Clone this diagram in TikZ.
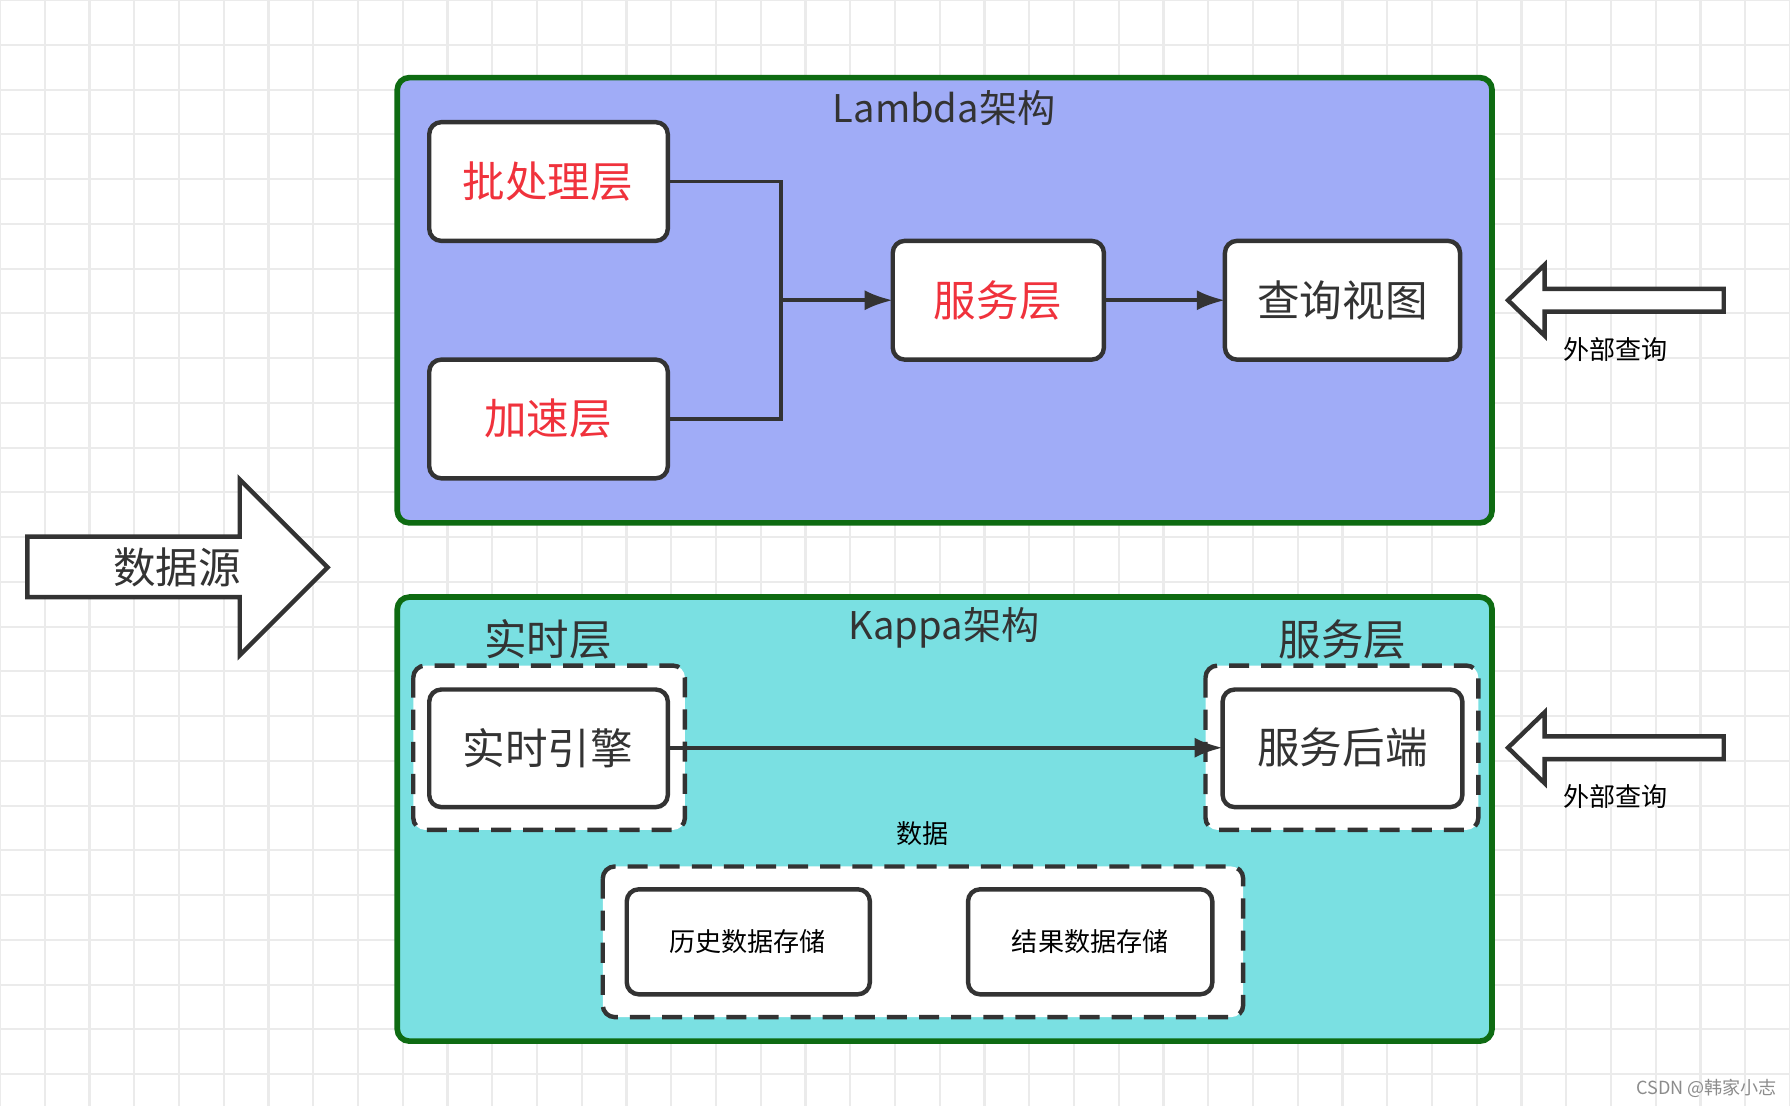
\documentclass[tikz,border=0pt]{standalone}
\usepackage{fontspec}
\setmainfont{Noto Sans CJK SC}
\usetikzlibrary{arrows.meta}
\definecolor{lambdafill}{HTML}{A0ACF7}
\definecolor{kappafill}{HTML}{7AE0E2}
\definecolor{frame}{HTML}{0E6B12}
\definecolor{redtxt}{HTML}{F0323C}
\definecolor{ink}{HTML}{333333}
\tikzset{
  Area/.style = {draw=frame, line width=1.4pt, rounded corners=3pt},
  Box/.style = {draw=ink, fill=white, line width=1.1pt, rounded corners=3pt},
  DashBox/.style = {draw=ink, fill=white, line width=1.1pt, dash pattern=on 5pt off 3pt, rounded corners=3pt},
  BigText/.style = {font=\fontsize{10.6}{12}\selectfont, text=ink},
  Title/.style = {font=\fontsize{9.5}{11}\selectfont, text=ink},
  Small/.style = {font=\fontsize{6.5}{8}\selectfont, text=black},
  Link/.style = {draw=ink, line width=0.9pt, -{Latex[length=7pt,width=5pt]}}
}
\begin{document}
\begin{tikzpicture}[x=0.01cm, y=-0.01cm]
  \useasboundingbox (0,0) rectangle (1568,969);
  % background grid
  \fill[white] (0,0) rectangle (1568,969);
  \foreach \i in {0,...,40}{
    \draw[black!8, line width=0.5pt] (\i*39.2,0) -- (\i*39.2,969);
    \draw[black!8, line width=0.5pt] (0,\i*39.2) -- (1568,\i*39.2);
  }

  % Lambda
  \draw[Area, fill=lambdafill] (348,68) rectangle (1307,458);
  \node[Title] (lambda) at (827,95) {Lambda架构};
  \draw[Box] (376,107) rectangle (585,211);
  \node[BigText, text=redtxt] (batch) at (480,159) {批处理层};
  \draw[Box] (376,315) rectangle (585,419);
  \node[BigText, text=redtxt] (speed) at (480,367) {加速层};
  \draw[Box] (782,211) rectangle (967,315);
  \node[BigText, text=redtxt] (serve) at (874,263) {服务层};
  \draw[Box] (1073,211) rectangle (1279,315);
  \node[BigText] (view) at (1176,263) {查询视图};
  \coordinate (batchE) at (585,159);
  \coordinate (speedE) at (585,367);
  \coordinate (join) at (684,263);
  \coordinate (serveW) at (782,263);
  \coordinate (serveE) at (967,263);
  \coordinate (viewW) at (1073,263);
  \draw[draw=ink, line width=0.9pt] (batchE) -| (join) (speedE) -| (join);
  \draw[Link] (join) -- (serveW);
  \draw[Link] (serveE) -- (viewW);

  % external queries
  \foreach \y/\n in {263/q1, 655/q2}{
    \draw[draw=ink, fill=white, line width=1.1pt]
      (1510,\y-10) -- (1353,\y-10) -- (1353,\y-31) -- (1321,\y)
      -- (1353,\y+31) -- (1353,\y+10) -- (1510,\y+10) -- cycle;
    \node[Small] (\n) at (1415,\y+43) {外部查询};
  }

  % data source
  \draw[draw=ink, fill=white, line width=1.1pt]
    (24,470) -- (210,470) -- (210,420) -- (287,497) -- (210,574)
    -- (210,523) -- (24,523) -- cycle;
  \node[BigText] (source) at (155,497) {数据源};

  % Kappa
  \draw[Area, fill=kappafill] (348,523) rectangle (1307,912);
  \node[Title] (kappa) at (827,550) {Kappa架构};
  \node[BigText] (rtlayer) at (480,560) {实时层};
  \draw[DashBox] (362,583) rectangle (600,727);
  \draw[Box] (376,604) rectangle (585,707);
  \node[BigText] (engine) at (480,655) {实时引擎};
  \node[BigText] (svlayer) at (1176,560) {服务层};
  \draw[DashBox] (1056,583) rectangle (1295,727);
  \draw[Box] (1071,604) rectangle (1281,707);
  \node[BigText] (backend) at (1176,655) {服务后端};
  \coordinate (engineE) at (585,655);
  \coordinate (backendW) at (1071,655);
  \draw[Link] (engineE) -- (backendW);

  \node[Small] (data) at (808,730) {数据};
  \draw[DashBox] (528,759) rectangle (1089,891);
  \draw[Box] (549,779) rectangle (762,871);
  \node[Small] (hist) at (655,825) {历史数据存储};
  \draw[Box] (848,779) rectangle (1062,871);
  \node[Small] (result) at (955,825) {结果数据存储};

  \node[font=\fontsize{4.5}{6}\selectfont, text=black!45] (mark) at (1495,953) {CSDN @韩家小志};
\end{tikzpicture}
\end{document}
